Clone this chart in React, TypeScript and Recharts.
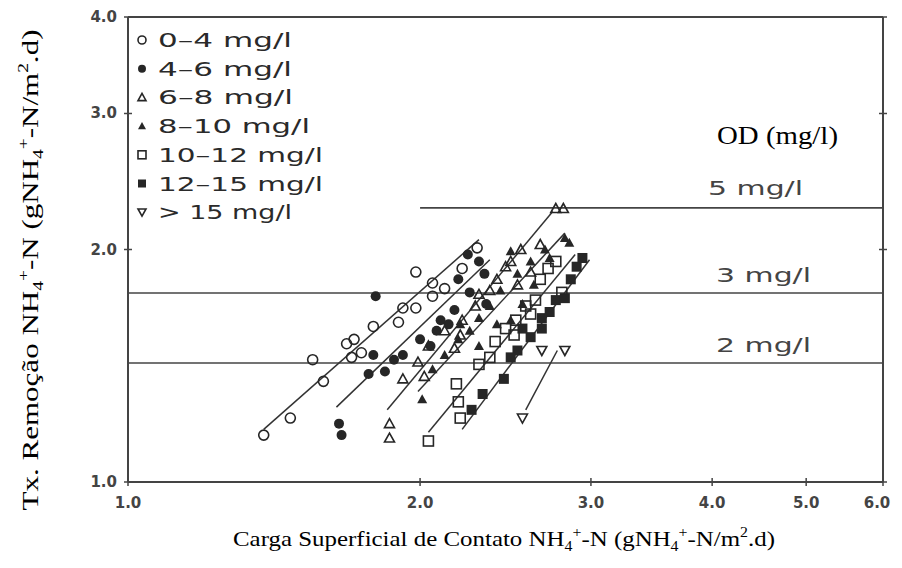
import { ReferenceLine, Scatter, ScatterChart, XAxis, YAxis } from 'recharts';

const X_TICKS = [1, 2, 3, 4, 5, 6];
const Y_TICKS = [1, 2, 3, 4];

// [carga superficial, taxa de remoção] por faixa de OD
const od0to4 = [
  [1.38, 1.15], [1.47, 1.21], [1.55, 1.44], [1.59, 1.35], [1.68, 1.51], [1.71, 1.53],
  [1.7, 1.45], [1.74, 1.47], [1.79, 1.59], [1.9, 1.61], [1.92, 1.68], [1.98, 1.87],
  [2.06, 1.81], [2.06, 1.74], [1.98, 1.68], [2.29, 2.01], [2.21, 1.89], [2.12, 1.78],
];
const od4to6 = [
  [1.8, 1.74], [1.65, 1.19], [1.66, 1.15], [1.79, 1.46], [1.77, 1.38], [1.84, 1.39],
  [1.88, 1.44], [1.92, 1.46], [2.0, 1.53], [2.08, 1.57], [2.1, 1.62], [2.17, 1.67],
  [2.19, 1.83], [2.25, 1.76], [2.3, 1.93], [2.33, 1.86], [2.34, 1.7], [2.24, 1.97],
  [2.14, 1.6], [2.05, 1.5],
];
const od6to8 = [
  [1.86, 1.19], [1.86, 1.14], [1.92, 1.36], [1.99, 1.43], [2.02, 1.37], [2.04, 1.5],
  [2.12, 1.57], [2.17, 1.49], [2.21, 1.62], [2.28, 1.69], [2.36, 1.77], [2.4, 1.83],
  [2.48, 1.93], [2.54, 2.0], [2.66, 2.03], [2.76, 2.26], [2.81, 2.26], [2.6, 1.87],
  [2.3, 1.75], [2.45, 1.9], [2.2, 1.55], [2.52, 1.8],
];
const od8to10 = [
  [2.01, 1.28], [2.06, 1.4], [2.12, 1.46], [2.19, 1.53], [2.25, 1.57], [2.3, 1.63],
  [2.36, 1.69], [2.42, 1.77], [2.48, 1.99], [2.52, 1.86], [2.6, 1.93], [2.69, 2.0],
  [2.82, 2.07], [2.85, 2.04], [2.48, 1.62], [2.3, 1.5], [2.4, 1.6], [2.55, 1.7],
  [2.62, 1.8], [2.72, 1.95], [2.2, 1.6],
];
const od10to12 = [
  [2.04, 1.13], [2.18, 1.34], [2.19, 1.27], [2.2, 1.21], [2.36, 1.45], [2.39, 1.52],
  [2.45, 1.58], [2.51, 1.62], [2.57, 1.69], [2.66, 1.83], [2.71, 1.89], [2.76, 1.93],
  [2.63, 1.72], [2.3, 1.42], [2.5, 1.55], [2.6, 1.65], [2.8, 1.76],
];
const od12to15 = [
  [2.26, 1.24], [2.32, 1.3], [2.44, 1.36], [2.52, 1.48], [2.6, 1.54], [2.67, 1.63],
  [2.67, 1.58], [2.76, 1.72], [2.82, 1.73], [2.86, 1.83], [2.9, 1.9], [2.94, 1.95],
  [2.55, 1.58], [2.72, 1.66], [2.48, 1.45],
];
const odAbove15 = [[2.55, 1.21], [2.67, 1.48], [2.82, 1.48]];

// retas ajustadas: [x0, y0, x1, y1]
const fitLines = [
  [1.38, 1.17, 2.3, 2.06],
  [1.64, 1.25, 2.36, 1.94],
  [1.85, 1.24, 2.74, 2.24],
  [1.99, 1.31, 2.82, 2.1],
  [2.04, 1.16, 2.89, 1.97],
  [2.21, 1.17, 2.99, 1.94],
  [2.57, 1.24, 2.77, 1.48],
];

const odLevels = [2.264, 1.757, 1.426];
const odLevelStart = [2.0, 1.0, 1.0];
const odLevelLabels = ['5 mg/l', '3 mg/l', '2 mg/l'];

const legendLabels = ['0–4 mg/l', '4–6 mg/l', '6–8 mg/l', '8–10 mg/l', '10–12 mg/l', '12–15 mg/l', '> 15 mg/l'];
const legendWidths = [134, 134, 135, 152, 165, 165, 134];

type Kind = 'circle' | 'disc' | 'tri' | 'triFill' | 'square' | 'squareFill' | 'triDown';

const groups: { kind: Kind; pts: number[][] }[] = [
  { kind: 'circle', pts: od0to4 },
  { kind: 'disc', pts: od4to6 },
  { kind: 'tri', pts: od6to8 },
  { kind: 'triFill', pts: od8to10 },
  { kind: 'square', pts: od10to12 },
  { kind: 'squareFill', pts: od12to15 },
  { kind: 'triDown', pts: odAbove15 },
];

const INK = '#262626';
const AXIS = '#444';

function Marker({ cx, cy, kind, s = 1 }: { cx: number; cy: number; kind: Kind; s?: number }) {
  const r = 5 * s;
  const sw = 1.6;
  switch (kind) {
    case 'circle':
      return <circle cx={cx} cy={cy} r={r} fill="none" stroke={INK} strokeWidth={sw} />;
    case 'disc':
      return <circle cx={cx} cy={cy} r={r} fill={INK} />;
    case 'tri':
      return <polygon points={`${cx},${cy - r} ${cx - r},${cy + r * 0.8} ${cx + r},${cy + r * 0.8}`} fill="none" stroke={INK} strokeWidth={sw} />;
    case 'triFill':
      return <polygon points={`${cx},${cy - r} ${cx - r},${cy + r * 0.8} ${cx + r},${cy + r * 0.8}`} fill={INK} />;
    case 'square':
      return <rect x={cx - r} y={cy - r} width={2 * r} height={2 * r} fill="none" stroke={INK} strokeWidth={sw} />;
    case 'squareFill':
      return <rect x={cx - r} y={cy - r} width={2 * r} height={2 * r} fill={INK} />;
    default:
      return <polygon points={`${cx},${cy + r} ${cx - r},${cy - r * 0.8} ${cx + r},${cy - r * 0.8}`} fill="none" stroke={INK} strokeWidth={sw} />;
  }
}

const fmt = (v: number) => v.toFixed(1);
const tickFont = { fontSize: 15, fontWeight: 700, fill: '#444', fontFamily: 'DejaVu Sans' };

function XTick({ x, y, payload, index }: any) {
  const dx = index === X_TICKS.length - 1 ? -6 : 0;
  return (
    <g>
      <line x1={x} x2={x} y1={y - 4} y2={y + 4} stroke={AXIS} strokeWidth={1.5} />
      <text x={x + dx} y={y + 26} textAnchor="middle" {...tickFont}>{fmt(payload.value)}</text>
    </g>
  );
}

function YTick({ x, y, payload }: any) {
  return (
    <g>
      <line x1={x - 4} x2={x + 4} y1={y} y2={y} stroke={AXIS} strokeWidth={1.5} />
      <text x={x - 11} y={y + 5} textAnchor="end" {...tickFont}>{fmt(payload.value)}</text>
    </g>
  );
}

function TopTick({ x, y }: any) {
  return <line x1={x} x2={x} y1={y - 4} y2={y + 4} stroke={AXIS} strokeWidth={1.5} />;
}

function RightTick({ x, y }: any) {
  return <line x1={x - 4} x2={x + 4} y1={y} y2={y} stroke={AXIS} strokeWidth={1.5} />;
}

export default function App() {
  return (
    <div style={{ position: 'relative', width: 894, height: 560 }}>
      <ScatterChart width={894} height={560} margin={{ top: 8, right: 18, bottom: 0, left: 0 }}>
        <XAxis
          type="number"
          dataKey="x"
          scale="log"
          domain={[1, 6]}
          ticks={X_TICKS}
          allowDataOverflow
          height={86}
          tick={<XTick />}
          tickSize={0}
          tickMargin={0}
          tickLine={false}
          axisLine={{ stroke: AXIS, strokeWidth: 2 }}
        />
        <XAxis
          xAxisId="top"
          orientation="top"
          type="number"
          scale="log"
          domain={[1, 6]}
          ticks={X_TICKS}
          allowDataOverflow
          height={1}
          tick={<TopTick />}
          tickSize={0}
          tickMargin={0}
          tickLine={false}
          axisLine={{ stroke: AXIS, strokeWidth: 2 }}
        />
        <YAxis
          type="number"
          dataKey="y"
          scale="log"
          domain={[1, 4]}
          ticks={Y_TICKS}
          allowDataOverflow
          width={120}
          tick={<YTick />}
          tickSize={0}
          tickMargin={0}
          tickLine={false}
          axisLine={{ stroke: AXIS, strokeWidth: 2 }}
        />
        <YAxis
          yAxisId="right"
          orientation="right"
          type="number"
          scale="log"
          domain={[1, 4]}
          ticks={Y_TICKS}
          allowDataOverflow
          width={1}
          tick={<RightTick />}
          tickSize={0}
          tickMargin={0}
          tickLine={false}
          axisLine={{ stroke: AXIS, strokeWidth: 2 }}
        />
        <ReferenceLine y={4} stroke={AXIS} strokeWidth={2} ifOverflow="visible" />
        <ReferenceLine x={6} stroke={AXIS} strokeWidth={2} ifOverflow="visible" />
        {odLevels.map((v, i) => (
          <ReferenceLine
            key={odLevelLabels[i]}
            segment={[{ x: odLevelStart[i], y: v }, { x: 6, y: v }]}
            stroke="#444"
            strokeWidth={1.6}
            ifOverflow="visible"
          />
        ))}
        {fitLines.map((l, i) => (
          <ReferenceLine key={i} segment={[{ x: l[0], y: l[1] }, { x: l[2], y: l[3] }]} stroke="#333" strokeWidth={1.5} />
        ))}
        {groups.map((g) => (
          <Scatter
            key={g.kind}
            data={g.pts.map(([x, y]) => ({ x, y }))}
            isAnimationActive={false}
            shape={(p: any) => <Marker cx={p.cx} cy={p.cy} kind={g.kind} />}
          />
        ))}
      </ScatterChart>
      <svg width={894} height={560} style={{ position: 'absolute', left: 0, top: 0, pointerEvents: 'none' }}>
        {groups.map((g, i) => {
          const cy = 32 + i * 28.7;
          return (
            <g key={g.kind}>
              <Marker cx={134} cy={cy} kind={g.kind} s={0.8} />
              <text x={150} y={cy + 7} fontSize={20} fill="#2a2a2a" fontFamily="DejaVu Sans" textLength={legendWidths[i]} lengthAdjust="spacingAndGlyphs">
                {legendLabels[i]}
              </text>
            </g>
          );
        })}
        {odLevelLabels.map((t, i) => (
          <text key={t} x={i === 0 ? 700 : 708} y={[187, 274, 344][i]} fontSize={20} fill="#444" fontFamily="DejaVu Sans" textLength={95} lengthAdjust="spacingAndGlyphs">
            {t}
          </text>
        ))}
        <text x={709} y={136} fontSize={26} fill="#000" fontFamily="Liberation Serif" textLength={121} lengthAdjust="spacingAndGlyphs">OD (mg/l)</text>
        <text x={496} y={538} textAnchor="middle" fontSize={22} fill="#000" fontFamily="Liberation Serif" textLength={542} lengthAdjust="spacingAndGlyphs">
          Carga Superficial de Contato NH<tspan fontSize={14} dy={5}>4</tspan>
          <tspan fontSize={14} dy={-14}>+</tspan>
          <tspan dy={9}>-N (gNH</tspan>
          <tspan fontSize={14} dy={5}>4</tspan>
          <tspan fontSize={14} dy={-14}>+</tspan>
          <tspan dy={9}>-N/m</tspan>
          <tspan fontSize={14} dy={-9}>2</tspan>
          <tspan dy={9}>.d)</tspan>
        </text>
        <text x={0} y={0} transform="translate(30,262) rotate(-90)" textAnchor="middle" fontSize={24} fill="#000" fontFamily="Liberation Serif" textLength={481} lengthAdjust="spacingAndGlyphs">
          Tx. Remoção NH<tspan fontSize={15} dy={5}>4</tspan>
          <tspan fontSize={15} dy={-15}>+</tspan>
          <tspan dy={10}>-N (gNH</tspan>
          <tspan fontSize={15} dy={5}>4</tspan>
          <tspan fontSize={15} dy={-15}>+</tspan>
          <tspan dy={10}>-N/m</tspan>
          <tspan fontSize={15} dy={-10}>2</tspan>
          <tspan dy={10}>.d)</tspan>
        </text>
      </svg>
    </div>
  );
}
